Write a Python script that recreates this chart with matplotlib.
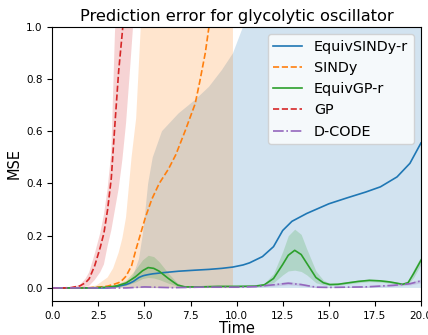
import matplotlib.pyplot as plt

# EquivSINDy-r
t_esr = [0, 2, 3, 3.6, 4.0, 4.2, 4.4, 4.7, 4.9, 5.0, 5.2, 5.45, 5.95, 6.85, 7.75, 8.5, 9.2, 9.8,
         10.35, 10.7, 11.4, 12.0, 12.5, 13.0, 13.8, 15, 16, 17, 17.8, 18.7, 19.4, 20]
esr_mean = [0, 0, 0.0, 0.007, 0.013, 0.018, 0.025, 0.04, 0.046, 0.048, 0.051, 0.054, 0.058, 0.064,
            0.068, 0.071, 0.075, 0.08, 0.088, 0.096, 0.12, 0.158, 0.22, 0.255, 0.285, 0.322, 0.345,
            0.367, 0.387, 0.425, 0.477, 0.555]
esr_hi = [0, 0, 0.0, 0.01, 0.02, 0.03, 0.05, 0.11, 0.2, 0.26, 0.40, 0.50, 0.60, 0.668, 0.72, 0.77,
          0.834, 0.898, 1.0, 1.08, 1.2, 1.3, 1.4, 1.5, 1.6, 1.7, 1.8, 1.9, 2.0, 2.1, 2.2, 2.3]
esr_lo = [0] * len(t_esr)

# SINDy
t_sindy = [0, 1, 2.0, 2.4, 2.8, 3.0, 3.3, 3.6, 3.8, 4.0, 4.3, 4.55, 4.8, 5.05, 5.4, 5.8, 6.3, 6.7,
           7.2, 7.75, 8.0, 8.3, 8.5, 8.8, 9.2, 9.8]
sindy_mean = [0, 0.0, 0.001, 0.003, 0.005, 0.007, 0.013, 0.02, 0.03, 0.045, 0.085, 0.15, 0.21, 0.27,
              0.34, 0.40, 0.455, 0.51, 0.60, 0.705, 0.79, 0.9, 1.0, 1.15, 1.4, 1.8]
sindy_hi = [0, 0.0, 0.003, 0.01, 0.03, 0.04, 0.075, 0.135, 0.19, 0.27, 0.5, 0.65, 1.0, 1.3, 1.6, 2.0,
            2.4, 2.8, 3.2, 3.6, 4.0, 4.4, 4.8, 5.2, 5.6, 6.0]
sindy_lo = [0] * len(t_sindy)

# EquivGP-r
t_egp = [0, 1, 2, 3, 3.5, 4.0, 4.5, 4.9, 5.2, 5.5, 5.8, 6.3, 6.8, 7.2, 8, 9, 10, 11, 11.5, 12.0,
         12.5, 12.8, 13.15, 13.5, 13.8, 14.3, 14.7, 15.05, 15.5, 16, 16.6, 17.2, 17.8, 18.3, 18.7,
         19.0, 19.3, 19.6, 20]
egp_mean = [0, 0, 0.0, 0.003, 0.008, 0.019, 0.042, 0.066, 0.078, 0.075, 0.064, 0.036, 0.011, 0.004,
            0.004, 0.006, 0.006, 0.007, 0.012, 0.036, 0.09, 0.125, 0.144, 0.128, 0.095, 0.04, 0.02,
            0.013, 0.014, 0.019, 0.025, 0.029, 0.027, 0.023, 0.018, 0.014, 0.02, 0.055, 0.106]
egp_lo = [0, 0, 0, 0.002, 0.004, 0.01, 0.022, 0.036, 0.04, 0.038, 0.032, 0.018, 0.006, 0.002, 0.002,
          0.004, 0.004, 0.005, 0.008, 0.02, 0.05, 0.065, 0.068, 0.063, 0.05, 0.02, 0.012, 0.009, 0.01,
          0.015, 0.02, 0.024, 0.022, 0.019, 0.015, 0.011, 0.015, 0.04, 0.09]
egp_hi = [0, 0, 0, 0.005, 0.014, 0.03, 0.07, 0.108, 0.125, 0.12, 0.1, 0.056, 0.018, 0.006, 0.006,
          0.008, 0.008, 0.01, 0.018, 0.055, 0.14, 0.2, 0.225, 0.205, 0.15, 0.065, 0.03, 0.018, 0.019,
          0.024, 0.03, 0.034, 0.032, 0.028, 0.022, 0.018, 0.027, 0.07, 0.12]

# GP
t_gp = [0, 0.5, 1.0, 1.5, 1.8, 2.0, 2.3, 2.6, 2.8, 3.0, 3.2, 3.4, 3.6, 3.8, 4.0, 4.2, 4.4, 4.6]
gp_mean = [0, 0, 0.001, 0.008, 0.02, 0.035, 0.085, 0.155, 0.21, 0.30, 0.42, 0.63, 0.83, 0.98, 1.15,
           1.3, 1.45, 1.6]
gp_hi = [0, 0, 0.002, 0.012, 0.035, 0.06, 0.13, 0.21, 0.28, 0.38, 0.52, 0.98, 1.2, 1.4, 1.6, 1.8,
         2.0, 2.2]
gp_lo = [0, 0, 0, 0.0, 0.004, 0.008, 0.03, 0.06, 0.09, 0.16, 0.22, 0.30, 0.38, 0.49, 0.63, 0.82,
         1.02, 1.2]

# D-CODE
t_dc = [0, 2, 4, 5, 6.5, 8, 10, 11, 12.0, 12.8, 13.5, 14.3, 15, 17, 18.5, 19.4, 20]
dc_mean = [0, 0, 0.0, 0.004, 0.001, 0.003, 0.003, 0.005, 0.012, 0.018, 0.013, 0.003, 0.002, 0.004,
           0.01, 0.016, 0.027]
dc_lo = [0, 0, 0, 0.001, 0, 0.001, 0.001, 0.002, 0.007, 0.012, 0.008, 0.001, 0.001, 0.002, 0.006,
         0.011, 0.02]
dc_hi = [0, 0, 0.001, 0.007, 0.003, 0.005, 0.005, 0.008, 0.017, 0.025, 0.018, 0.006, 0.004, 0.007,
         0.014, 0.021, 0.034]

fig = plt.figure(figsize=(4.28, 3.35), dpi=100)
ax = fig.add_axes([0.1222, 0.1015, 0.8614, 0.8188])

lw = 1.2
ax.plot(t_esr, esr_mean, color="C0", lw=lw, label="EquivSINDy-r")
ax.fill_between(t_esr, esr_lo, esr_hi, color="C0", alpha=0.2, lw=0)
ax.plot(t_sindy, sindy_mean, color="C1", ls="--", lw=lw, label="SINDy")
ax.fill_between(t_sindy, sindy_lo, sindy_hi, color="C1", alpha=0.2, lw=0)
ax.plot(t_egp, egp_mean, color="C2", lw=lw, label="EquivGP-r")
ax.fill_between(t_egp, egp_lo, egp_hi, color="C2", alpha=0.2, lw=0)
ax.plot(t_gp, gp_mean, color="C3", ls="--", lw=lw, label="GP")
ax.fill_between(t_gp, gp_lo, gp_hi, color="C3", alpha=0.2, lw=0)
ax.plot(t_dc, dc_mean, color="C4", ls="-.", lw=lw, label="D-CODE")
ax.fill_between(t_dc, dc_lo, dc_hi, color="C4", alpha=0.2, lw=0)

ax.set_xlim(0, 20)
ax.set_ylim(-0.05, 1.0)
ax.set_xticks([0, 2.5, 5, 7.5, 10, 12.5, 15, 17.5, 20])
ax.tick_params(labelsize=7.5)
ax.set_xlabel("Time", fontsize=10.5, labelpad=0)
ax.set_ylabel("MSE", fontsize=10.5, labelpad=3)
ax.set_title("Prediction error for glycolytic oscillator", fontsize=11.7, pad=4)
ax.legend(loc="upper right", fontsize=10.4)

fig.savefig("out.png", dpi=100)
